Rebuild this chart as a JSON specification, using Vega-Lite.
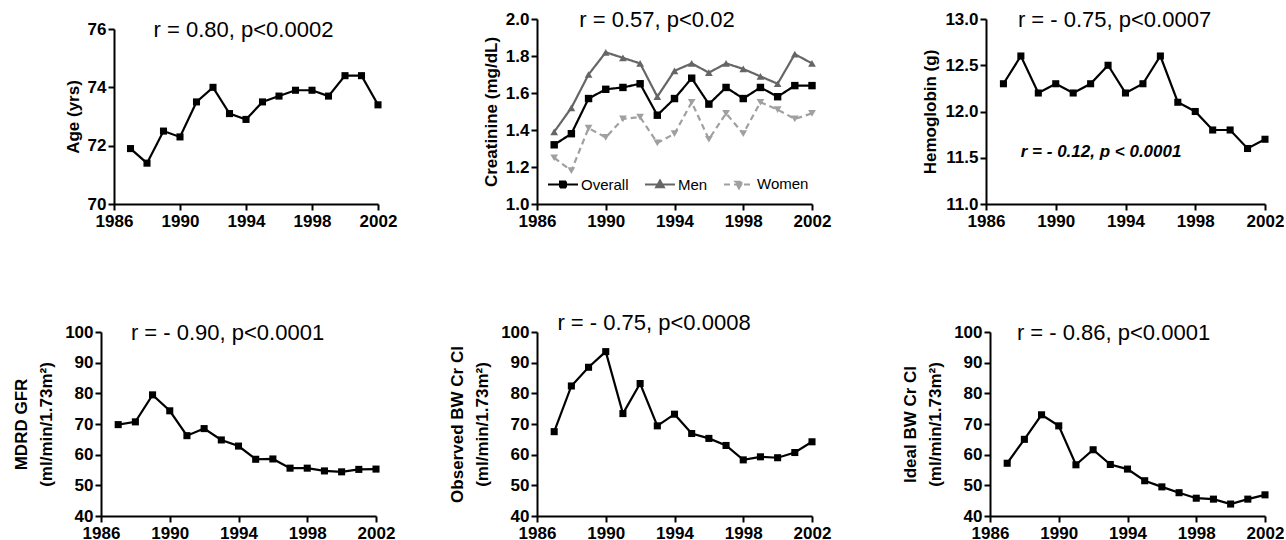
{
  "$schema": "https://vega.github.io/schema/vega-lite/v6.json",
  "background": "white",
  "padding": {"left": 12, "top": 9, "right": 0, "bottom": 0},
  "datasets": {
    "age": [
      {"year": 1987, "value": 71.9}, {"year": 1988, "value": 71.4}, {"year": 1989, "value": 72.5}, {"year": 1990, "value": 72.3},
      {"year": 1991, "value": 73.5}, {"year": 1992, "value": 74.0}, {"year": 1993, "value": 73.1}, {"year": 1994, "value": 72.9},
      {"year": 1995, "value": 73.5}, {"year": 1996, "value": 73.7}, {"year": 1997, "value": 73.9}, {"year": 1998, "value": 73.9},
      {"year": 1999, "value": 73.7}, {"year": 2000, "value": 74.4}, {"year": 2001, "value": 74.4}, {"year": 2002, "value": 73.4}
    ],
    "creat": [
      {"year": 1987, "series": "Overall", "value": 1.32}, {"year": 1988, "series": "Overall", "value": 1.38}, {"year": 1989, "series": "Overall", "value": 1.57}, {"year": 1990, "series": "Overall", "value": 1.62},
      {"year": 1991, "series": "Overall", "value": 1.63}, {"year": 1992, "series": "Overall", "value": 1.65}, {"year": 1993, "series": "Overall", "value": 1.48}, {"year": 1994, "series": "Overall", "value": 1.57},
      {"year": 1995, "series": "Overall", "value": 1.68}, {"year": 1996, "series": "Overall", "value": 1.54}, {"year": 1997, "series": "Overall", "value": 1.63}, {"year": 1998, "series": "Overall", "value": 1.57},
      {"year": 1999, "series": "Overall", "value": 1.63}, {"year": 2000, "series": "Overall", "value": 1.58}, {"year": 2001, "series": "Overall", "value": 1.64}, {"year": 2002, "series": "Overall", "value": 1.64},
      {"year": 1987, "series": "Men", "value": 1.39}, {"year": 1988, "series": "Men", "value": 1.52}, {"year": 1989, "series": "Men", "value": 1.70}, {"year": 1990, "series": "Men", "value": 1.82},
      {"year": 1991, "series": "Men", "value": 1.79}, {"year": 1992, "series": "Men", "value": 1.76}, {"year": 1993, "series": "Men", "value": 1.58}, {"year": 1994, "series": "Men", "value": 1.72},
      {"year": 1995, "series": "Men", "value": 1.76}, {"year": 1996, "series": "Men", "value": 1.71}, {"year": 1997, "series": "Men", "value": 1.76}, {"year": 1998, "series": "Men", "value": 1.73},
      {"year": 1999, "series": "Men", "value": 1.69}, {"year": 2000, "series": "Men", "value": 1.65}, {"year": 2001, "series": "Men", "value": 1.81}, {"year": 2002, "series": "Men", "value": 1.76},
      {"year": 1987, "series": "Women", "value": 1.25}, {"year": 1988, "series": "Women", "value": 1.18}, {"year": 1989, "series": "Women", "value": 1.41}, {"year": 1990, "series": "Women", "value": 1.36},
      {"year": 1991, "series": "Women", "value": 1.46}, {"year": 1992, "series": "Women", "value": 1.47}, {"year": 1993, "series": "Women", "value": 1.33}, {"year": 1994, "series": "Women", "value": 1.38},
      {"year": 1995, "series": "Women", "value": 1.55}, {"year": 1996, "series": "Women", "value": 1.35}, {"year": 1997, "series": "Women", "value": 1.49}, {"year": 1998, "series": "Women", "value": 1.38},
      {"year": 1999, "series": "Women", "value": 1.55}, {"year": 2000, "series": "Women", "value": 1.51}, {"year": 2001, "series": "Women", "value": 1.46}, {"year": 2002, "series": "Women", "value": 1.49}
    ],
    "hgb": [
      {"year": 1987, "value": 12.3}, {"year": 1988, "value": 12.6}, {"year": 1989, "value": 12.2}, {"year": 1990, "value": 12.3},
      {"year": 1991, "value": 12.2}, {"year": 1992, "value": 12.3}, {"year": 1993, "value": 12.5}, {"year": 1994, "value": 12.2},
      {"year": 1995, "value": 12.3}, {"year": 1996, "value": 12.6}, {"year": 1997, "value": 12.1}, {"year": 1998, "value": 12.0},
      {"year": 1999, "value": 11.8}, {"year": 2000, "value": 11.8}, {"year": 2001, "value": 11.6}, {"year": 2002, "value": 11.7}
    ],
    "gfr": [
      {"year": 1987, "value": 69.8}, {"year": 1988, "value": 70.7}, {"year": 1989, "value": 79.5}, {"year": 1990, "value": 74.3},
      {"year": 1991, "value": 66.2}, {"year": 1992, "value": 68.5}, {"year": 1993, "value": 64.8}, {"year": 1994, "value": 62.8},
      {"year": 1995, "value": 58.5}, {"year": 1996, "value": 58.6}, {"year": 1997, "value": 55.6}, {"year": 1998, "value": 55.6},
      {"year": 1999, "value": 54.7}, {"year": 2000, "value": 54.4}, {"year": 2001, "value": 55.2}, {"year": 2002, "value": 55.3}
    ],
    "obs": [
      {"year": 1987, "value": 67.5}, {"year": 1988, "value": 82.4}, {"year": 1989, "value": 88.5}, {"year": 1990, "value": 93.6},
      {"year": 1991, "value": 73.4}, {"year": 1992, "value": 83.2}, {"year": 1993, "value": 69.4}, {"year": 1994, "value": 73.2},
      {"year": 1995, "value": 66.9}, {"year": 1996, "value": 65.3}, {"year": 1997, "value": 63.0}, {"year": 1998, "value": 58.3},
      {"year": 1999, "value": 59.3}, {"year": 2000, "value": 59.0}, {"year": 2001, "value": 60.7}, {"year": 2002, "value": 64.2}
    ],
    "ideal": [
      {"year": 1987, "value": 57.2}, {"year": 1988, "value": 65.0}, {"year": 1989, "value": 73.0}, {"year": 1990, "value": 69.4},
      {"year": 1991, "value": 56.7}, {"year": 1992, "value": 61.6}, {"year": 1993, "value": 56.8}, {"year": 1994, "value": 55.3},
      {"year": 1995, "value": 51.5}, {"year": 1996, "value": 49.5}, {"year": 1997, "value": 47.6}, {"year": 1998, "value": 45.8},
      {"year": 1999, "value": 45.5}, {"year": 2000, "value": 43.9}, {"year": 2001, "value": 45.5}, {"year": 2002, "value": 46.9}
    ],
    "hgbnote": [
      {"note": "r = - 0.12, p < 0.0001"}
    ]
  },
  "columns": 3,
  "bounds": "flush",
  "spacing": {"row": 128, "column": 159},
  "resolve": {
    "scale": {"stroke": "independent", "strokeDash": "independent", "color": "independent", "fill": "independent", "shape": "independent"},
    "legend": {"stroke": "independent", "strokeDash": "independent", "color": "independent", "fill": "independent", "shape": "independent"}
  },
  "concat": [
    {
      "width": 277, "height": 185,
      "title": {"text": "r = 0.80, p<0.0002", "dx": 4, "offset": -23},
      "data": {"name": "age"},
      "mark": {"type": "line", "strokeWidth": 2.2, "color": "black", "point": {"shape": "square", "size": 50, "filled": true, "fill": "black", "opacity": 1}},
      "encoding": {
        "x": {"field": "year", "type": "quantitative", "scale": {"domain": [1986, 2002], "range": [13, 277], "nice": false, "zero": false}, "axis": {"title": null, "values": [1986, 1990, 1994, 1998, 2002], "format": "d"}},
        "y": {"field": "value", "type": "quantitative", "scale": {"domain": [70, 76], "range": [185, 10], "nice": false, "zero": false}, "axis": {"title": "Age (yrs)", "values": [70, 72, 74, 76], "format": "d", "offset": -13}}
      }
    },
    {
      "width": 290, "height": 185,
      "title": {"text": "r = 0.57, p<0.02", "dx": -25, "offset": -22},
      "data": {"name": "creat"},
      "encoding": {
        "x": {"field": "year", "type": "quantitative", "scale": {"domain": [1986, 2002], "range": [0, 275], "nice": false, "zero": false}, "axis": {"title": null, "values": [1986, 1990, 1994, 1998, 2002], "format": "d"}},
        "y": {"field": "value", "type": "quantitative", "scale": {"domain": [1.0, 2.0], "nice": false, "zero": false}, "axis": {"title": "Creatinine (mg/dL)", "values": [1.0, 1.2, 1.4, 1.6, 1.8, 2.0], "format": ".1f"}}
      },
      "layer": [
        {
          "mark": {"type": "line", "strokeWidth": 2.2},
          "encoding": {
            "stroke": {
              "field": "series", "type": "nominal",
              "scale": {"domain": ["Overall", "Men", "Women"], "range": ["black", "#666666", "#a0a0a0"]},
              "legend": {
                "orient": "none", "legendX": 10, "legendY": 149, "direction": "horizontal", "title": null,
                "symbolSize": 900, "symbolStrokeWidth": 2, "padding": 0,
                "labelFont": "Liberation Sans", "labelFontSize": 15, "labelColor": "black", "labelOffset": 2, "columnPadding": 12,
                "encode": {
                  "symbols": {
                    "update": {
                      "shape": {"signal": "datum.value === 'Overall' ? 'M-1,0H1M-0.2,-0.2H0.2V0.2H-0.2Z' : datum.value === 'Men' ? 'M-1,0H1M0,-0.27L0.26,0.19H-0.26Z' : 'M-1,0H1M0,0.27L0.26,-0.19H-0.26Z'"},
                      "fill": {"signal": "datum.value === 'Overall' ? 'black' : datum.value === 'Men' ? '#666666' : '#a0a0a0'"},
                      "strokeDash": {"signal": "datum.value === 'Women' ? [6, 4] : [1, 0]"}
                    }
                  }
                }
              }
            },
            "strokeDash": {"field": "series", "type": "nominal", "scale": {"domain": ["Overall", "Men", "Women"], "range": [[1, 0], [1, 0], [6, 4]]}, "legend": null}
          }
        },
        {
          "transform": [{"filter": "datum.series === 'Overall'"}],
          "mark": {"type": "point", "filled": true, "opacity": 1, "size": 55, "shape": "square", "fill": "black"}
        },
        {
          "transform": [{"filter": "datum.series === 'Men'"}],
          "mark": {"type": "point", "filled": true, "opacity": 1, "size": 60, "shape": "triangle-up", "fill": "#666666"}
        },
        {
          "transform": [{"filter": "datum.series === 'Women'"}],
          "mark": {"type": "point", "filled": true, "opacity": 1, "size": 60, "shape": "triangle-down", "fill": "#a0a0a0"}
        }
      ]
    },
    {
      "width": 279, "height": 185,
      "title": {"text": "r = - 0.75, p<0.0007", "dx": -11, "offset": -22},
      "layer": [
        {
          "data": {"name": "hgb"},
          "mark": {"type": "line", "strokeWidth": 2.2, "color": "black", "point": {"shape": "square", "size": 50, "filled": true, "fill": "black", "opacity": 1}},
          "encoding": {
            "x": {"field": "year", "type": "quantitative", "scale": {"domain": [1986, 2002], "range": [0, 279], "nice": false, "zero": false}, "axis": {"title": null, "values": [1986, 1990, 1994, 1998, 2002], "format": "d"}},
            "y": {"field": "value", "type": "quantitative", "scale": {"domain": [11, 13], "nice": false, "zero": false}, "axis": {"title": "Hemoglobin (g)", "values": [11, 11.5, 12, 12.5, 13], "format": ".1f"}}
          }
        },
        {
          "data": {"name": "hgbnote"},
          "mark": {"type": "text", "font": "Liberation Sans", "fontSize": 17, "fontWeight": "bold", "fontStyle": "italic", "align": "center", "baseline": "middle", "fill": "black"},
          "encoding": {
            "x": {"datum": 1992.6},
            "y": {"datum": 11.56},
            "text": {"field": "note", "type": "nominal"}
          }
        }
      ]
    },
    {
      "width": 277, "height": 184,
      "title": {"text": "r = - 0.90, p<0.0001", "dx": -12, "offset": -22},
      "data": {"name": "gfr"},
      "mark": {"type": "line", "strokeWidth": 2.2, "color": "black", "point": {"shape": "square", "size": 50, "filled": true, "fill": "black", "opacity": 1}},
      "encoding": {
        "x": {"field": "year", "type": "quantitative", "scale": {"domain": [1986, 2002], "range": [0, 275], "nice": false, "zero": false}, "axis": {"title": null, "values": [1986, 1990, 1994, 1998, 2002], "format": "d"}},
        "y": {"field": "value", "type": "quantitative", "scale": {"domain": [40, 100], "nice": false, "zero": false}, "axis": {"title": ["MDRD GFR", "(ml/min/1.73m²)"], "titleLineHeight": 25, "titlePadding": 9, "values": [40, 50, 60, 70, 80, 90, 100], "format": "d"}}
      }
    },
    {
      "width": 290, "height": 184,
      "title": {"text": "r = - 0.75, p<0.0008", "dx": -28, "offset": -12},
      "data": {"name": "obs"},
      "mark": {"type": "line", "strokeWidth": 2.2, "color": "black", "point": {"shape": "square", "size": 50, "filled": true, "fill": "black", "opacity": 1}},
      "encoding": {
        "x": {"field": "year", "type": "quantitative", "scale": {"domain": [1986, 2002], "range": [0, 275], "nice": false, "zero": false}, "axis": {"title": null, "values": [1986, 1990, 1994, 1998, 2002], "format": "d"}},
        "y": {"field": "value", "type": "quantitative", "scale": {"domain": [40, 100], "nice": false, "zero": false}, "axis": {"title": ["Observed BW Cr Cl", "(ml/min/1.73m²)"], "titleLineHeight": 25, "titlePadding": 9, "values": [40, 50, 60, 70, 80, 90, 100], "format": "d"}}
      }
    },
    {
      "width": 279, "height": 184,
      "title": {"text": "r = - 0.86, p<0.0001", "dx": -12, "offset": -22},
      "data": {"name": "ideal"},
      "mark": {"type": "line", "strokeWidth": 2.2, "color": "black", "point": {"shape": "square", "size": 50, "filled": true, "fill": "black", "opacity": 1}},
      "encoding": {
        "x": {"field": "year", "type": "quantitative", "scale": {"domain": [1986, 2002], "range": [4, 279], "nice": false, "zero": false}, "axis": {"title": null, "values": [1986, 1990, 1994, 1998, 2002], "format": "d"}},
        "y": {"field": "value", "type": "quantitative", "scale": {"domain": [40, 100], "nice": false, "zero": false}, "axis": {"title": ["Ideal BW Cr Cl", "(ml/min/1.73m²)"], "titleLineHeight": 25, "titlePadding": 9, "values": [40, 50, 60, 70, 80, 90, 100], "format": "d", "offset": -4}}
      }
    }
  ],
  "config": {
    "view": {"stroke": null},
    "font": "Liberation Sans",
    "axis": {
      "domainColor": "black", "domainWidth": 2, "tickColor": "black", "tickWidth": 2, "tickSize": 6,
      "labelFont": "Liberation Sans", "labelFontSize": 17, "labelFontWeight": "bold", "labelColor": "black", "labelPadding": 2,
      "labelFlush": false, "labelOverlap": false, "labelBound": false,
      "titleFont": "Liberation Sans", "titleFontSize": 17, "titleFontWeight": "bold", "titleColor": "black", "titlePadding": 5,
      "grid": false
    },
    "axisX": {"labelPadding": 3},
    "title": {"font": "Liberation Sans", "fontSize": 22, "fontWeight": "normal", "color": "black", "anchor": "middle", "baseline": "middle", "frame": "group"}
  }
}
